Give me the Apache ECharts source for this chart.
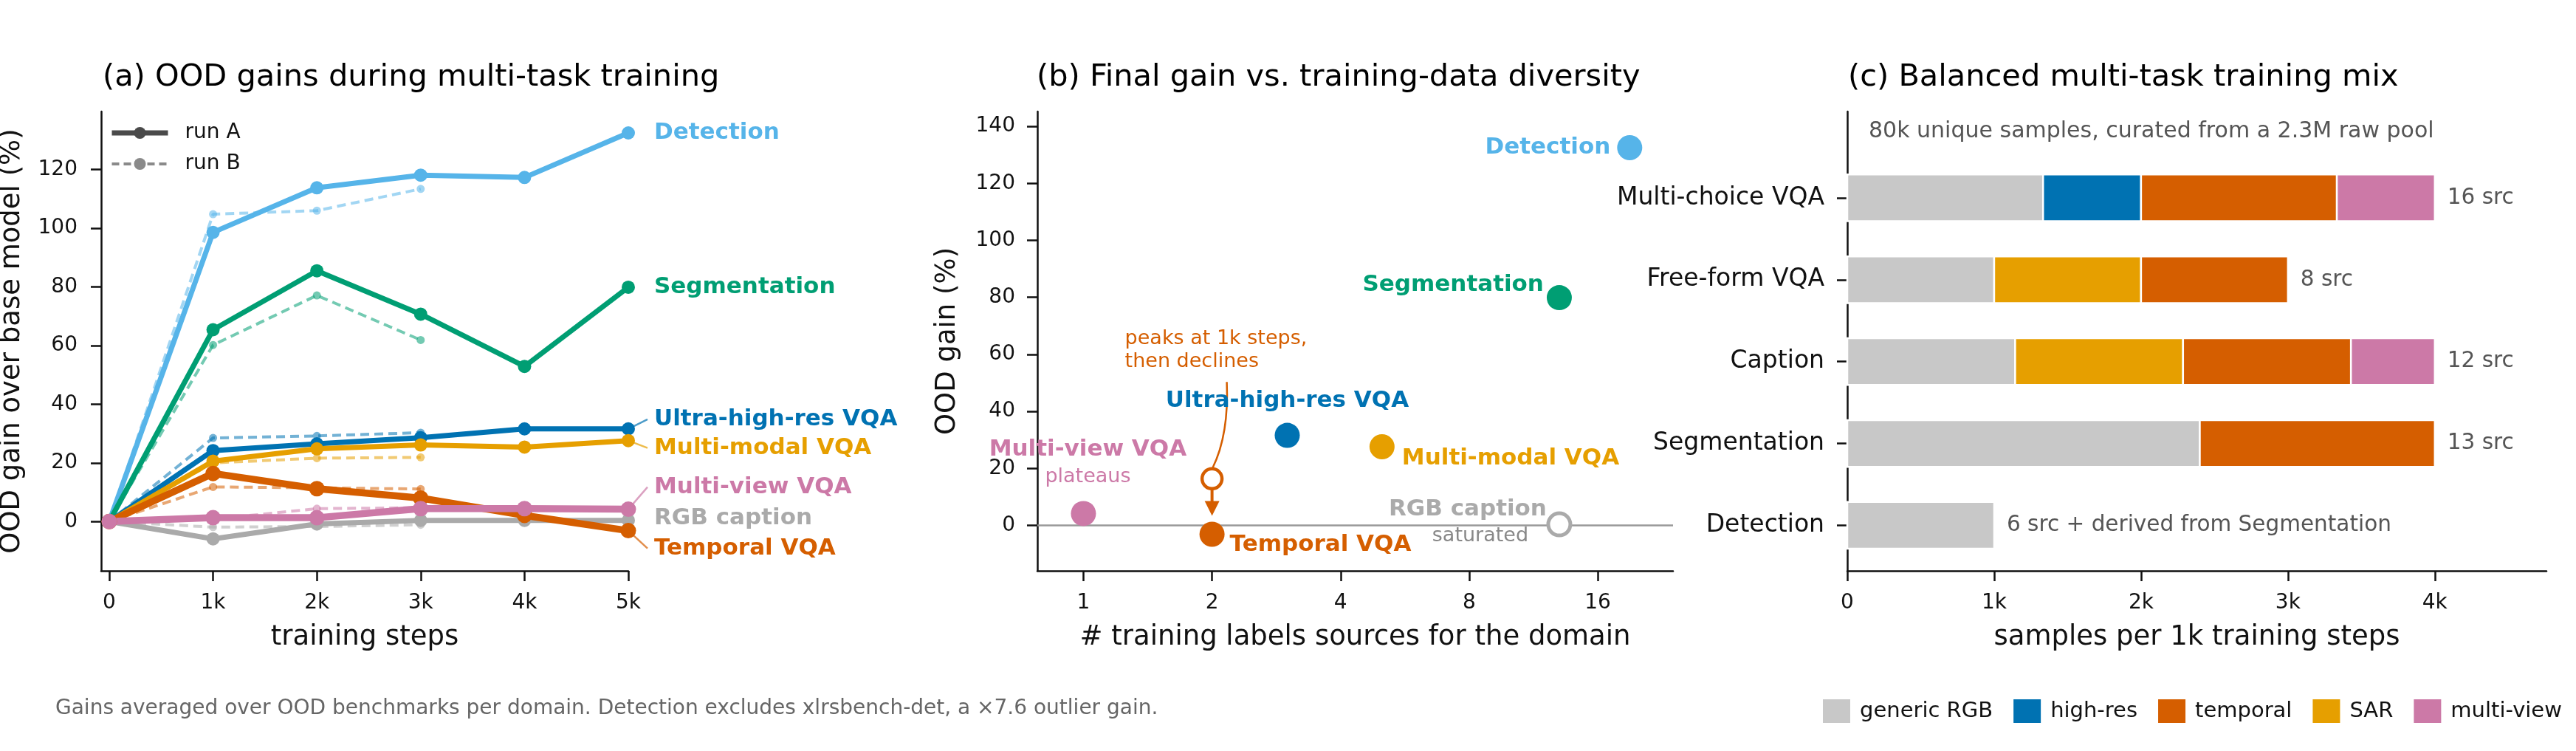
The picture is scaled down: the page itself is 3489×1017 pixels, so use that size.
<!DOCTYPE html>
<html>
<head>
<meta charset="utf-8">
<script src="https://cdn.jsdelivr.net/npm/echarts@6/dist/echarts.min.js"></script>
<style>
  html, body { margin: 0; padding: 0; background: #fff; }
  #chart { width: 3489px; height: 1017px; }
</style>
</head>
<body>
<div id="chart"></div>
<script>
// ===== data =====
// (a) OOD gain (%) vs training steps (k)
const steps  = [0, 1, 2, 3, 4, 5];
const stepsB = [0, 1, 2, 3];
const domains = ['Detection', 'Segmentation', 'Ultra-high-res VQA', 'Multi-modal VQA', 'RGB caption', 'Temporal VQA', 'Multi-view VQA'];
const detA = [0, 98.6, 113.8, 118.1, 117.3, 132.5];
const segA = [0, 65.4, 85.5, 70.7, 52.9, 79.9];
const uhrA = [0, 24.2, 26.5, 28.6, 31.6, 31.6];
const mmA  = [0, 20.6, 24.8, 26.1, 25.4, 27.6];
const rgbA = [0, -5.9, -0.8, 0.4, 0.4, 0.4];
const tmpA = [0, 16.4, 11.2, 8.0, 2.1, -3.1];
const mvA  = [0, 1.3, 1.3, 4.4, 4.4, 4.2];
const detB = [0, 104.8, 106.0, 113.4];
const segB = [0, 60.2, 77.1, 61.9];
const uhrB = [0, 28.5, 29.2, 30.3];
const mmB  = [0, 20.0, 21.6, 21.9];
const rgbB = [0, -1.9, -1.7, -1.1];
const tmpB = [0, 11.8, 11.5, 11.1];
const mvB  = [0, 0.8, 4.4, 4.7];
const stepTicks = [0, 1, 2, 3, 4, 5];
const gainTicksA = [0, 20, 40, 60, 80, 100, 120];

// (b) number of label sources per domain (same order as domains)
const domainSources = [19, 13, 3, 5, 13, 2, 1];
const sourceTicks = [1, 2, 4, 8, 16];
const gainTicksB = [0, 20, 40, 60, 80, 100, 120, 140];

// (c) samples per 1k steps (k), bottom -> top
const mixCats = ['Detection', 'Segmentation', 'Caption', 'Free-form VQA', 'Multi-choice VQA'];
const mixRGB       = [1.0, 2.4, 1.143, 1.0, 1.333];
const mixHighRes   = [0, 0, 0, 0, 0.667];
const mixSAR       = [0, 0, 1.143, 1.0, 0];
const mixTemporal  = [0, 1.6, 1.143, 1.0, 1.333];
const mixMultiView = [0, 0, 0.571, 0, 0.667];
const mixNotes = ['6 src + derived from Segmentation', '13 src', '12 src', '8 src', '16 src'];
const srcNames = ['generic RGB', 'high-res', 'SAR', 'temporal', 'multi-view'];   // stacking order
const legendOrder = ['generic RGB', 'high-res', 'temporal', 'SAR', 'multi-view'];
const mixTicks = [0, 1, 2, 3, 4];

// ===== style =====
const FONT = '"DejaVu Sans", sans-serif';
const domainColors = ['#56B4E9', '#009E73', '#0072B2', '#E69F00', '#AAAAAA', '#D55E00', '#CC79A7'];
const srcColors = ['#C8C8C8', '#0072B2', '#E69F00', '#D55E00', '#CC79A7'];
const endLabelDy = [0, 0, -13, 10, -3, 24, -30];   // label nudges on the right of (a)
const AXIS = '#111';

const runA = [detA, segA, uhrA, mmA, rgbA, tmpA, mvA];
const runB = [detB, segB, uhrB, mmB, rgbB, tmpB, mvB];
const finalGain = runA.map(r => r[r.length - 1]);
const mixVals = [mixRGB, mixHighRes, mixSAR, mixTemporal, mixMultiView];

function axisCommon(ticks, fmt, labelSize, margin) {
  return {
    axisLine: { show: true, onZero: false, lineStyle: { color: AXIS, width: 2.5 } },
    axisTick: { show: true, length: 14, customValues: ticks, lineStyle: { color: AXIS, width: 2.5 } },
    axisLabel: { customValues: ticks, formatter: fmt, color: AXIS, fontFamily: FONT, fontSize: labelSize || 28, margin: margin || 30 },
    splitLine: { show: false },
    nameLocation: 'middle',
    nameMoveOverlap: false,
    nameTextStyle: { color: AXIS, fontFamily: FONT, fontSize: 37 }
  };
}
const kFmt = v => (v === 0 ? '0' : v + 'k');

const series = [];

// (a) run B dashed
domains.forEach((d, i) => {
  series.push({
    name: d + ' B', type: 'line', xAxisIndex: 0, yAxisIndex: 0, z: 2, clip: false, silent: true,
    data: stepsB.map((s, j) => [s, runB[i][j]]),
    symbol: 'circle', symbolSize: 11,
    lineStyle: { color: domainColors[i], width: 4, type: [12, 7], opacity: 0.55 },
    itemStyle: { color: domainColors[i], opacity: 0.55 }
  });
});
// (a) run A solid
domains.forEach((d, i) => {
  const thick = d === 'Temporal VQA' || d === 'Multi-view VQA';
  series.push({
    name: d, type: 'line', xAxisIndex: 0, yAxisIndex: 0, z: 3, clip: false, silent: true,
    data: steps.map((s, j) => [s, runA[i][j]]),
    symbol: 'circle', symbolSize: thick ? 21 : 18,
    lineStyle: { color: domainColors[i], width: thick ? 9.5 : 7 },
    itemStyle: { color: domainColors[i], opacity: 1 }
  });
});
// legend proxies
series.push({ name: 'run A', type: 'line', xAxisIndex: 0, yAxisIndex: 0, data: [], symbol: 'circle', symbolSize: 16,
  lineStyle: { color: '#4a4a4a', width: 6 }, itemStyle: { color: '#4a4a4a' } });
series.push({ name: 'run B', type: 'line', xAxisIndex: 0, yAxisIndex: 0, data: [], symbol: 'circle', symbolSize: 10,
  lineStyle: { color: '#8a8a8a', width: 4, type: [10, 6] }, itemStyle: { color: '#8a8a8a' } });

// (b) zero line
series.push({
  type: 'scatter', xAxisIndex: 1, yAxisIndex: 1, data: [], z: 1, silent: true,
  markLine: { silent: true, symbol: ['none', 'none'], label: { show: false },
    lineStyle: { color: '#999', width: 2.5, type: 'solid' }, data: [{ yAxis: 0 }] }
});
// (b) final gains
series.push({
  type: 'scatter', xAxisIndex: 1, yAxisIndex: 1, z: 5, clip: false, silent: true, symbolSize: 34,
  data: domains.map((d, i) => ({
    value: [domainSources[i], finalGain[i]],
    itemStyle: d === 'RGB caption'
      ? { color: '#fff', borderColor: domainColors[i], borderWidth: 5, opacity: 1 }
      : { color: domainColors[i], opacity: 1 },
    symbolSize: d === 'RGB caption' ? 30 : 34
  }))
});
// (b) temporal peak (hollow)
const tIdx = domains.indexOf('Temporal VQA');
series.push({
  type: 'scatter', xAxisIndex: 1, yAxisIndex: 1, z: 5, clip: false, silent: true, symbolSize: 27,
  data: [[domainSources[tIdx], Math.max(...tmpA)]],
  itemStyle: { color: '#fff', borderColor: domainColors[tIdx], borderWidth: 4.5, opacity: 1 }
});

// (c) stacked horizontal bars
const BAR_H = 0.57;
const starts = mixCats.map(() => 0);
srcNames.forEach((name, s) => {
  const data = [];
  mixCats.forEach((c, i) => {
    const v = mixVals[s][i];
    if (v > 0) data.push([starts[i], starts[i] + v, i]);
    starts[i] += v;
  });
  series.push({
    name: name, type: 'custom', xAxisIndex: 2, yAxisIndex: 2, silent: true,
    itemStyle: { color: srcColors[s] },
    encode: { x: [0, 1], y: 2 },
    data: data,
    renderItem: (params, api) => {
      const p0 = api.coord([api.value(0), api.value(2)]);
      const p1 = api.coord([api.value(1), api.value(2)]);
      const h = api.size([0, BAR_H])[1];
      return { type: 'rect', shape: { x: p0[0], y: p0[1] - h / 2, width: p1[0] - p0[0], height: h },
        style: { fill: srcColors[s], stroke: '#fff', lineWidth: 2.5 } };
    }
  });
});
// (c) source notes at bar ends
series.push({
  type: 'custom', xAxisIndex: 2, yAxisIndex: 2, silent: true, z: 4,
  encode: { x: 0, y: 1 },
  data: mixCats.map((c, i) => [starts[i], i]),
  renderItem: (params, api) => {
    const p = api.coord([api.value(0), api.value(1)]);
    return { type: 'text', x: p[0] + 17, y: p[1],
      style: { text: mixNotes[params.dataIndex], fill: '#555', fontFamily: FONT, fontSize: 29.5, align: 'left', verticalAlign: 'middle' } };
  }
});

const titleStyle = { color: '#000', fontFamily: FONT, fontSize: 41.5, fontWeight: 'normal' };

const option = {
  backgroundColor: '#fff',
  animation: false,
  textStyle: { fontFamily: FONT },
  title: [
    { text: '(a) OOD gains during multi-task training', left: 139, top: 84, padding: 0, textStyle: titleStyle },
    { text: '(b) Final gain vs. training-data diversity', left: 1404, top: 84, padding: 0, textStyle: titleStyle },
    { text: '(c) Balanced multi-task training mix', left: 2503, top: 84, padding: 0, textStyle: titleStyle },
    { text: 'Gains averaged over OOD benchmarks per domain. Detection excludes xlrsbench-det, a \u00d77.6 outlier gain.',
      left: 75, top: 946, padding: 0, textStyle: { color: '#666', fontFamily: FONT, fontSize: 28, fontWeight: 'normal' } }
  ],
  legend: [
    { data: [
        { name: 'run A', lineStyle: { width: 7 }, itemStyle: { color: '#4a4a4a' } },
        { name: 'run B', lineStyle: { width: 4, type: [10, 6] }, itemStyle: { color: '#8a8a8a' } }
      ],
      orient: 'vertical', left: 148, top: 166, padding: 0,
      itemWidth: 76, itemHeight: 20, itemGap: 14,
      textStyle: { color: '#111', fontFamily: FONT, fontSize: 28, padding: [0, 0, 0, 18] } },
    { data: legendOrder, orient: 'horizontal', left: 2469, top: 947, padding: 0, icon: 'rect',
      itemWidth: 37, itemHeight: 32, itemGap: 28,
      textStyle: { color: '#111', fontFamily: FONT, fontSize: 29, padding: [0, 0, 0, 8] } }
  ],
  grid: [
    { left: 137, right: 3489 - 851, top: 151, bottom: 1017 - 773, outerBoundsMode: 'none' },
    { left: 1405, right: 3489 - 2266, top: 151, bottom: 1017 - 773, outerBoundsMode: 'none' },
    { left: 2502, right: 3489 - 3449, top: 151, bottom: 1017 - 773, outerBoundsMode: 'none' }
  ],
  xAxis: [
    Object.assign({ gridIndex: 0, type: 'value', min: -0.078, max: 5, name: 'training steps', nameGap: 72 },
      axisCommon(stepTicks, kFmt)),
    Object.assign({ gridIndex: 1, type: 'log', logBase: 2, min: 0.78, max: 24, name: '# training labels sources for the domain', nameGap: 72 },
      axisCommon(sourceTicks, v => String(Math.round(v)))),
    Object.assign({ gridIndex: 2, type: 'value', min: 0, max: 4.76, name: 'samples per 1k training steps', nameGap: 72 },
      axisCommon(mixTicks, kFmt))
  ],
  yAxis: [
    Object.assign({ gridIndex: 0, type: 'value', min: -16.8, max: 139.8, name: 'OOD gain over base model (%)', nameGap: 102 },
      axisCommon(gainTicksA, v => String(v), 28, 32)),
    Object.assign({ gridIndex: 1, type: 'value', min: -15.9, max: 145.2, name: 'OOD gain (%)', nameGap: 103 },
      axisCommon(gainTicksB, v => String(v), 28, 30)),
    Object.assign({ gridIndex: 2, type: 'value', min: -0.555, max: 5.055 },
      axisCommon(mixTicks, v => mixCats[Math.round(v)], 33, 31))
  ],
  series: series
};

const chart = echarts.init(document.getElementById('chart'), null, { renderer: 'canvas' });
chart.setOption(option);

// ===== annotations placed from axis coordinates =====
const gfx = [];
function txt(x, y, text, color, size, weight, align) {
  gfx.push({ type: 'text', x: x, y: y, silent: true, z: 10,
    style: { text: text, fill: color, fontFamily: FONT, fontSize: size, fontWeight: weight || 'normal',
      align: align || 'left', verticalAlign: 'middle', lineHeight: 31 } });
}
function seg(a, b, color, w, op) {
  gfx.push({ type: 'line', silent: true, z: 9, shape: { x1: a[0], y1: a[1], x2: b[0], y2: b[1] },
    style: { stroke: color, lineWidth: w, opacity: op == null ? 1 : op } });
}

// (a) right-hand labels
domains.forEach((d, i) => {
  const p = chart.convertToPixel({ gridIndex: 0 }, [steps[steps.length - 1], finalGain[i]]);
  const dy = endLabelDy[i];
  if (Math.abs(dy) > 5) seg(p, [p[0] + 26, p[1] + dy], domainColors[i], 2.5, 0.7);
  txt(p[0] + 35, p[1] + dy, d, domainColors[i], 31, 'bold');
});

// (b) point labels
const bLab = {
  'Detection':          { dx: -26, dy: 0,   align: 'right' },
  'Segmentation':       { dx: -21, dy: -17, align: 'right' },
  'Ultra-high-res VQA': { dx: 0,   dy: -47, align: 'center' },
  'Multi-modal VQA':    { dx: 27,  dy: 16,  align: 'left' },
  'RGB caption':        { dx: -17, dy: -20, align: 'right' },
  'Temporal VQA':       { dx: 24,  dy: 14,  align: 'left' },
  'Multi-view VQA':     { dx: 6,   dy: -86, align: 'center' }
};
const bPts = domains.map((d, i) => chart.convertToPixel({ gridIndex: 1 }, [domainSources[i], finalGain[i]]));
domains.forEach((d, i) => {
  const o = bLab[d], p = bPts[i];
  txt(p[0] + o.dx, p[1] + o.dy, d, domainColors[i], 31, 'bold', o.align);
});
const pRGB = bPts[domains.indexOf('RGB caption')];
txt(pRGB[0] - 107, pRGB[1] + 16, 'saturated', '#888', 27, 'normal', 'center');
const pMV = bPts[domains.indexOf('Multi-view VQA')];
txt(pMV[0] + 6, pMV[1] - 49, 'plateaus', domainColors[6], 27, 'normal', 'center');

// temporal: peak -> final arrow and note
const vermil = domainColors[tIdx];
const pk = chart.convertToPixel({ gridIndex: 1 }, [domainSources[tIdx], Math.max(...tmpA)]);
const pf = bPts[tIdx];
txt(pk[0] - 118, pk[1] - 174, 'peaks at 1k steps,\nthen declines', vermil, 27, 'normal', 'left');
gfx.push({ type: 'bezierCurve', silent: true, z: 9,
  shape: { x1: pk[0] + 20, y1: pk[1] - 131, cpx1: pk[0] + 23, cpy1: pk[1] - 60, x2: pk[0] + 1, y2: pk[1] - 15 },
  style: { stroke: vermil, lineWidth: 2.5, fill: null } });
seg([pk[0], pk[1] + 14], [pk[0], pf[1] - 40], vermil, 4);
gfx.push({ type: 'polygon', silent: true, z: 9,
  shape: { points: [[pk[0] - 10, pf[1] - 45], [pk[0] + 10, pf[1] - 45], [pk[0], pf[1] - 25]] },
  style: { fill: vermil } });

// (c) header note
const pTop = chart.convertToPixel({ gridIndex: 2 }, [0, mixCats.length - 1]);
txt(pTop[0] + 29, pTop[1] - 90, '80k unique samples, curated from a 2.3M raw pool', '#555', 30);

chart.setOption({ graphic: gfx });
</script>
</body>
</html>
